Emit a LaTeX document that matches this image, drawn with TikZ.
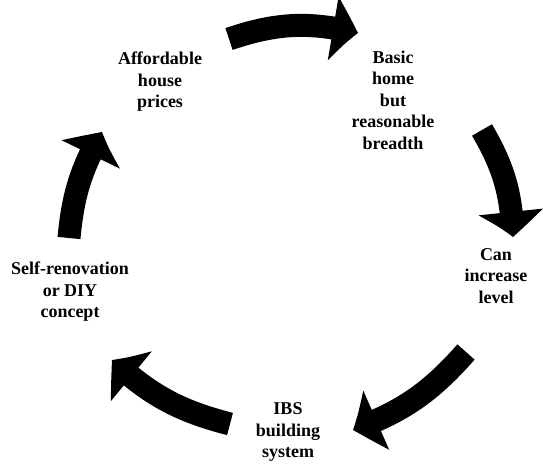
\documentclass[tikz,border=0pt]{standalone}
\usepackage{fontspec}
\setmainfont{Liberation Serif}
\usepackage{tikz}
\usetikzlibrary{arrows.meta,bending}

\tikzset{
  step label/.style={align=center,inner sep=0pt,font=\fontsize{18}{21.5}\selectfont\bfseries},
  cycarrow/.style={line width=23pt,-{Triangle[length=26pt,width=62pt,bend]}}
}

\begin{document}
\begin{tikzpicture}[x=1pt,y=1pt]
	\useasboundingbox (0,0) rectangle (543,464);
	\coordinate (t1) at (229,425);
	\coordinate (h1) at (358,431);
	\coordinate (t2) at (482,334);
	\coordinate (h2) at (513,227);
	\coordinate (t3) at (466,112);
	\coordinate (h3) at (353,34);
	\coordinate (t4) at (230,40);
	\coordinate (h4) at (112,104);
	\coordinate (t5) at (69,226);
	\coordinate (h5) at (102,332);

	\node (afford) at (160,382) [step label] {Affordable\\house\\prices};
	\node (basic) at (393,364) [step label] {Basic\\home\\but\\reasonable\\breadth};
	\node (canincr) at (496,188) [step label] {Can\\increase\\level};
	\node (ibs) at (288,32) [step label] {IBS\\building\\system};
	\node (selfreno) at (70,172) [step label] {Self-renovation\\or DIY\\concept};

	\draw[cycarrow] (t1) to[bend left=16] (h1);
	\draw[cycarrow] (t2) to[bend left=14] (h2);
	\draw[cycarrow] (t3) to[bend left=14] (h3);
	\draw[cycarrow] (t4) to[bend left=14] (h4);
	\draw[cycarrow] (t5) to[bend left=12] (h5);
\end{tikzpicture}
\end{document}
